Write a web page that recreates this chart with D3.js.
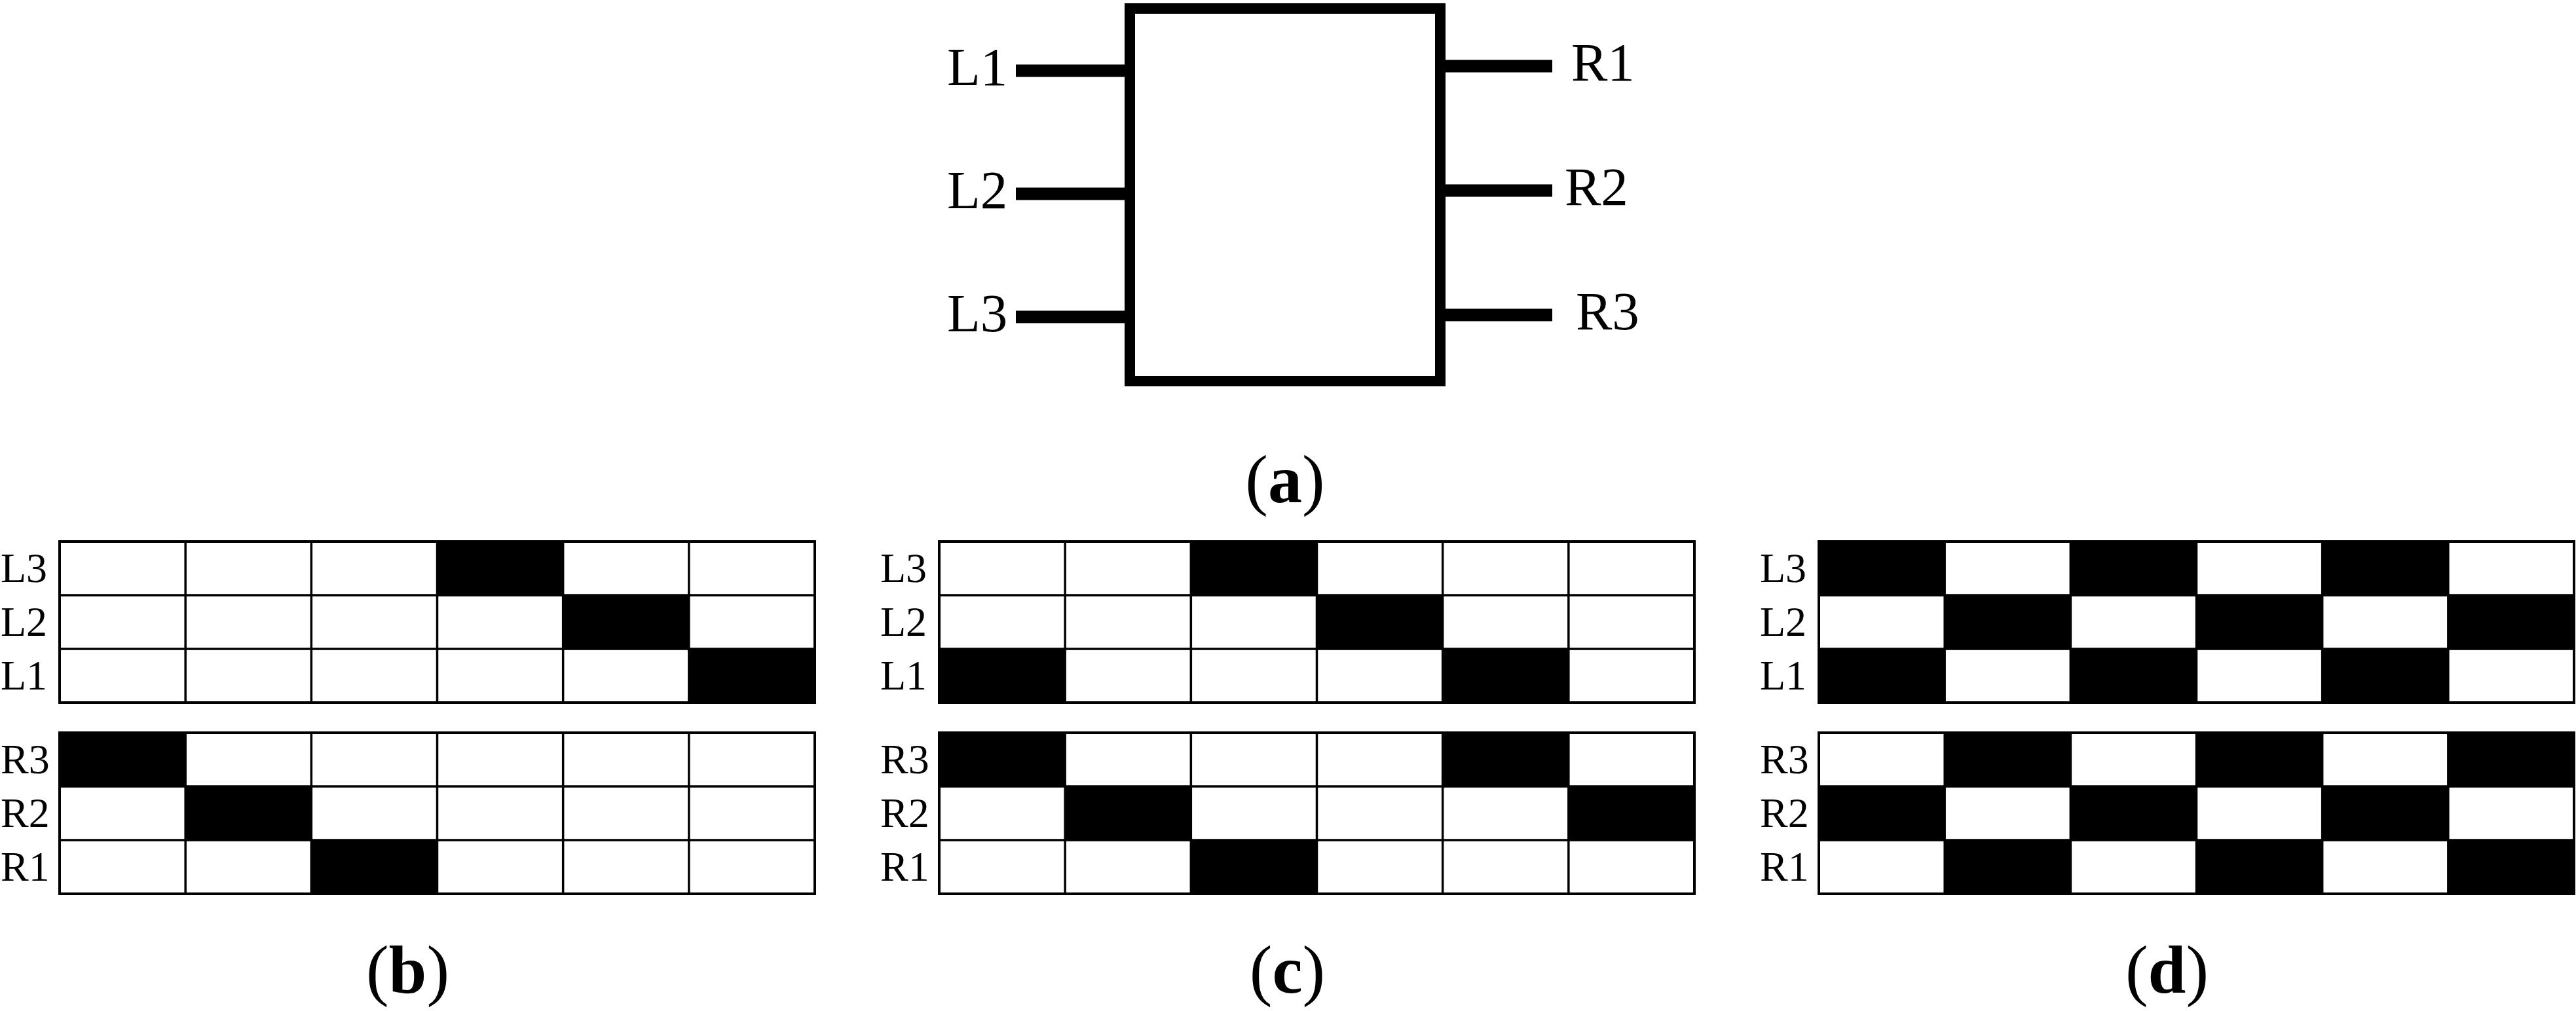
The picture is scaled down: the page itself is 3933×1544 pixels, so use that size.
<!DOCTYPE html>
<html>
<head>
<meta charset="utf-8">
<script src="https://cdn.jsdelivr.net/npm/d3@7"></script>
<style>
  body { margin: 0; background: #fff; overflow: hidden; }
  text { font-family: "Liberation Serif", "Times New Roman", serif; fill: #000; }
</style>
</head>
<body>
<script>
// pins of the block in (a)
const leftPins = ["L1", "L2", "L3"];
const rightPins = ["R1", "R2", "R3"];

// six time slots, rows as they are stacked in each table
const slots = [0, 1, 2, 3, 4, 5];
const topRows = ["L3", "L2", "L1"];
const bottomRows = ["R3", "R2", "R1"];

// 1 = black cell
const panelB = [
  [0, 0, 0, 1, 0, 0], // L3
  [0, 0, 0, 0, 1, 0], // L2
  [0, 0, 0, 0, 0, 1], // L1
  [1, 0, 0, 0, 0, 0], // R3
  [0, 1, 0, 0, 0, 0], // R2
  [0, 0, 1, 0, 0, 0]  // R1
];
const panelC = [
  [0, 0, 1, 0, 0, 0],
  [0, 0, 0, 1, 0, 0],
  [1, 0, 0, 0, 1, 0],
  [1, 0, 0, 0, 1, 0],
  [0, 1, 0, 0, 0, 1],
  [0, 0, 1, 0, 0, 0]
];
const panelD = [
  [1, 0, 1, 0, 1, 0],
  [0, 1, 0, 1, 0, 1],
  [1, 0, 1, 0, 1, 0],
  [0, 1, 0, 1, 0, 1],
  [1, 0, 1, 0, 1, 0],
  [0, 1, 0, 1, 0, 1]
];
const panelLetters = ["b", "c", "d"];
const panelData = [panelB, panelC, panelD];

const W = 3933, H = 1544;

const svg = d3.select("body").append("svg")
  .attr("width", W)
  .attr("height", H);

// ---- (a) block with pins ----
const box = { x0: 1717, x1: 2207, y0: 5, y1: 590, stroke: 16 };
const yLeft = d3.scalePoint().domain(leftPins).range([108, 484]);
const yRight = d3.scalePoint().domain(rightPins).range([101, 481]);
const rightNudge = { R1: 2399, R2: 2389, R3: 2406 };

const a = svg.append("g");

a.selectAll("line.lw")
  .data(leftPins)
  .enter()
  .append("line")
  .attr("x1", 1551)
  .attr("x2", box.x0 + 4)
  .attr("y1", d => yLeft(d))
  .attr("y2", d => yLeft(d))
  .attr("stroke", "#000")
  .attr("stroke-width", 19);

a.selectAll("line.rw")
  .data(rightPins)
  .enter()
  .append("line")
  .attr("x1", box.x1 - 4)
  .attr("x2", 2370)
  .attr("y1", d => yRight(d))
  .attr("y2", d => yRight(d))
  .attr("stroke", "#000")
  .attr("stroke-width", 19);

a.append("rect")
  .attr("x", box.x0 + box.stroke / 2)
  .attr("y", box.y0 + box.stroke / 2)
  .attr("width", box.x1 - box.x0 - box.stroke)
  .attr("height", box.y1 - box.y0 - box.stroke)
  .attr("fill", "#fff")
  .attr("stroke", "#000")
  .attr("stroke-width", box.stroke);

a.selectAll("text.lt")
  .data(leftPins)
  .enter()
  .append("text")
  .attr("x", 1446)
  .attr("y", d => yLeft(d) + 22)
  .attr("font-size", 83)
  .text(d => d);

a.selectAll("text.rt")
  .data(rightPins)
  .enter()
  .append("text")
  .attr("x", d => rightNudge[d])
  .attr("y", d => yRight(d) + 22)
  .attr("font-size", 83)
  .text(d => d);

function caption(g, letter, cx, baseline) {
  const t = g.append("text")
    .attr("x", cx)
    .attr("y", baseline)
    .attr("text-anchor", "middle")
    .attr("font-size", 104);
  t.append("tspan").text("(");
  t.append("tspan").attr("font-weight", "bold").text(letter);
  t.append("tspan").text(")");
}

caption(a, "a", (box.x0 + box.x1) / 2, 767);

// ---- (b), (c), (d) slot tables ----
const gridW = 1153;
const panelX = d3.scaleLinear().domain([0, 2]).range([91, 2777]);
const yTop = d3.scaleBand().domain(topRows).range([827, 1073]);
const yBottom = d3.scaleBand().domain(bottomRows).range([1119, 1365]);

panelData.forEach((rows, i) => {
  const left = panelX(i);
  const x = d3.scaleBand().domain(slots).range([left, left + gridW]);
  const g = svg.append("g");

  [[topRows, yTop, rows.slice(0, 3)], [bottomRows, yBottom, rows.slice(3)]].forEach(([names, y, vals]) => {
    const cells = [];
    names.forEach((n, r) => slots.forEach(s => cells.push({ row: n, slot: s, on: vals[r][s] })));

    g.selectAll(null)
      .data(cells)
      .enter()
      .append("rect")
      .attr("x", d => x(d.slot))
      .attr("y", d => y(d.row))
      .attr("width", x.bandwidth())
      .attr("height", y.bandwidth())
      .attr("fill", d => d.on ? "#000" : "#fff");

    // inner grid lines
    g.selectAll(null)
      .data(slots.slice(1))
      .enter()
      .append("line")
      .attr("x1", d => x(d)).attr("x2", d => x(d))
      .attr("y1", y.range()[0]).attr("y2", y.range()[1])
      .attr("stroke", "#000")
      .attr("stroke-width", 3.5);

    g.selectAll(null)
      .data(names.slice(1))
      .enter()
      .append("line")
      .attr("x1", left).attr("x2", left + gridW)
      .attr("y1", d => y(d)).attr("y2", d => y(d))
      .attr("stroke", "#000")
      .attr("stroke-width", 3.5);

    g.append("rect")
      .attr("x", left)
      .attr("y", y.range()[0])
      .attr("width", gridW)
      .attr("height", y.range()[1] - y.range()[0])
      .attr("fill", "none")
      .attr("stroke", "#000")
      .attr("stroke-width", 4);

    g.selectAll(null)
      .data(names)
      .enter()
      .append("text")
      .attr("x", left - 90)
      .attr("y", d => y(d) + y.bandwidth() / 2 + 21)
      .attr("font-size", 64)
      .text(d => d);
  });

  // keep the caption inside the page
  caption(g, panelLetters[i], (left - 90 + left + gridW) / 2, 1516);
});
</script>
</body>
</html>
